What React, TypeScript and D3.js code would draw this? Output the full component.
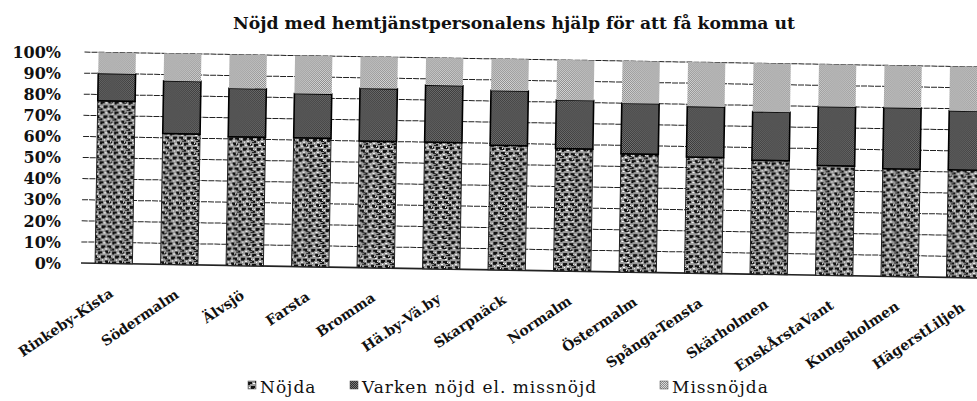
import { useEffect, useRef } from 'react';
import * as d3 from 'd3';

// districts, sorted as in the report
const categories = [
  'Rinkeby-Kista',
  'Södermalm',
  'Älvsjö',
  'Farsta',
  'Bromma',
  'Hä.by-Vä.by',
  'Skarpnäck',
  'Normalm',
  'Östermalm',
  'Spånga-Tensta',
  'Skärholmen',
  'EnskÅrstaVant',
  'Kungsholmen',
  'HägerstLiljeh',
];

// percent of respondents
const nojda = [77, 62, 61, 61, 60, 60, 59, 58, 56, 55, 54, 52, 51, 51];
const varken = [13, 25, 23, 21, 25, 27, 26, 23, 24, 24, 23, 28, 29, 28];
const missnojda = [10, 13, 16, 18, 15, 13, 15, 19, 20, 21, 23, 20, 20, 21];

const seriesKeys = ['Nöjda', 'Varken nöjd el. missnöjd', 'Missnöjda'];
const yTicks = [0, 10, 20, 30, 40, 50, 60, 70, 80, 90, 100];

const title = 'Nöjd med hemtjänstpersonalens hjälp för att få komma ut';

function StackedBarChart() {
  const svgRef = useRef(null);

  useEffect(() => {
    const width = 977;
    const height = 401;
    const serif = '"DejaVu Serif", serif';

    const svg = d3.select(svgRef.current);
    svg.selectAll('*').remove();
    svg.attr('width', width).attr('height', height).attr('viewBox', `0 0 ${width} ${height}`);

    // scanned-print look: textures instead of flat fills
    const defs = svg.append('defs');
    const p0 = defs
      .append('pattern')
      .attr('id', 'pat0')
      .attr('patternUnits', 'userSpaceOnUse')
      .attr('width', 14)
      .attr('height', 10);
    p0.append('rect').attr('width', 14).attr('height', 10).attr('fill', '#9a9a9a');
    p0.append('path')
      .attr('d', 'M0 1h4v2h-2v1h-2z M7 0h3v1h2v2h-4v-1h-1z M3 5h4v2h-1v1h-3z M9 5h4v1h1v2h-3v-1h-2z M0 8h2v2h-2z M12 9h2v1h-2z')
      .attr('fill', '#111');
    p0.append('path')
      .attr('d', 'M5 2h2v1h-2z M11 3h2v1h-2z M1 6h1v1h-1z M7 8h2v1h-2z M13 6h1v1h-1z M4 9h1v1h-1z M10 1h1v1h-1z')
      .attr('fill', '#fff');

    const p1 = defs
      .append('pattern')
      .attr('id', 'pat1')
      .attr('patternUnits', 'userSpaceOnUse')
      .attr('width', 2)
      .attr('height', 2);
    p1.append('rect').attr('width', 2).attr('height', 2).attr('fill', '#7a7a7a');
    p1.append('path').attr('d', 'M0 0h1v1h-1z M1 1h1v1h-1z').attr('fill', '#2e2e2e');

    const p2 = defs
      .append('pattern')
      .attr('id', 'pat2')
      .attr('patternUnits', 'userSpaceOnUse')
      .attr('width', 2)
      .attr('height', 2);
    p2.append('rect').attr('width', 2).attr('height', 2).attr('fill', '#dadada');
    p2.append('path').attr('d', 'M0 0h1v1h-1z M1 1h1v1h-1z').attr('fill', '#8a8a8a');

    svg.append('rect').attr('width', width).attr('height', height).attr('fill', '#fff');

    const x = d3
      .scaleBand()
      .domain(categories)
      .range([81, 998])
      .paddingInner(0.43)
      .paddingOuter(0.215);
    const y = d3.scaleLinear().domain([0, 100]).range([263, 52]);

    const rows = categories.map((label, i) => ({
      label,
      [seriesKeys[0]]: nojda[i],
      [seriesKeys[1]]: varken[i],
      [seriesKeys[2]]: missnojda[i],
    }));
    const stacked = d3.stack().keys(seriesKeys)(rows);

    // the scan is slightly tilted
    const plot = svg.append('g').attr('transform', 'rotate(0.95, 81, 263)');

    plot
      .append('g')
      .selectAll('line')
      .data(yTicks)
      .join('line')
      .attr('x1', 81)
      .attr('x2', 998)
      .attr('y1', d => y(d))
      .attr('y2', d => y(d))
      .attr('stroke', '#222')
      .attr('stroke-width', d => (d === 0 ? 1.6 : 1))
      .attr('stroke-dasharray', d => (d === 0 ? null : '6,1'));

    const strokes = ['#222', '#000', 'none'];
    const strokeWidths = [1, 1.6, 0];

    plot
      .append('g')
      .selectAll('g')
      .data(stacked)
      .join('g')
      .attr('fill', (d, i) => `url(#pat${i})`)
      .attr('stroke', (d, i) => strokes[i])
      .attr('stroke-width', (d, i) => strokeWidths[i])
      .selectAll('rect')
      .data(d => d)
      .join('rect')
      .attr('x', d => x(d.data.label))
      .attr('width', x.bandwidth())
      .attr('y', d => y(d[1]))
      .attr('height', d => y(d[0]) - y(d[1]));

    plot
      .append('g')
      .selectAll('text')
      .data(categories)
      .join('text')
      .attr('transform', d => `translate(${x(d) + x.bandwidth() / 2 + 1}, 295) rotate(-35)`)
      .attr('text-anchor', 'end')
      .attr('font-family', serif)
      .attr('font-weight', 'bold')
      .attr('font-size', 14)
      .attr('fill', '#111')
      .text(d => d);

    svg
      .append('g')
      .selectAll('text')
      .data(yTicks)
      .join('text')
      .attr('x', 61)
      .attr('y', d => y(d))
      .attr('dy', '0.36em')
      .attr('text-anchor', 'end')
      .attr('font-family', serif)
      .attr('font-weight', 'bold')
      .attr('font-size', 16)
      .attr('fill', '#111')
      .text(d => `${d}%`);

    svg
      .append('text')
      .attr('x', 233)
      .attr('y', 28.5)
      .attr('textLength', 562)
      .attr('lengthAdjust', 'spacingAndGlyphs')
      .attr('font-family', serif)
      .attr('font-weight', 'bold')
      .attr('font-size', 16)
      .attr('fill', '#111')
      .text(title);

    const legendX = [248, 350, 660];
    const legend = svg
      .append('g')
      .selectAll('g')
      .data(seriesKeys)
      .join('g')
      .attr('transform', (d, i) => `translate(${legendX[i]}, 381)`);
    legend
      .append('rect')
      .attr('width', 8)
      .attr('height', 8)
      .attr('fill', (d, i) => `url(#pat${i})`)
      .attr('stroke', '#444')
      .attr('stroke-width', 0.5);
    legend
      .append('text')
      .attr('x', 12)
      .attr('y', 11.5)
      .attr('font-family', serif)
      .attr('font-size', 17)
      .attr('letter-spacing', 1)
      .attr('fill', '#111')
      .text(d => d);
  }, []);

  return <svg ref={svgRef} style={{ position: 'absolute', left: 0, top: 0, display: 'block' }} />;
}

export default function App() {
  return <StackedBarChart />;
}
